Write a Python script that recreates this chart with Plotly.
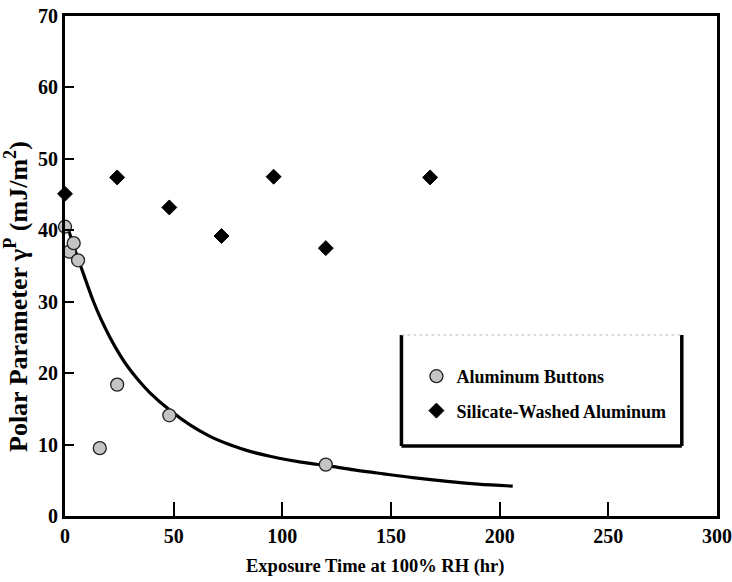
import plotly.graph_objects as go

# Data
buttons_x = [0, 2, 4, 6, 16, 24, 48, 120]
buttons_y = [40.5, 37.0, 38.2, 35.8, 9.5, 18.4, 14.1, 7.2]

silicate_x = [0, 24, 48, 72, 96, 120, 168]
silicate_y = [45.1, 47.4, 43.2, 39.2, 47.5, 37.5, 47.4]

fit_x = [1.5, 4, 7.2, 10, 13, 16.5, 20.7, 24.5, 28.4, 33.5, 39.1, 48.3, 57.5, 66.7, 75.9, 85.1,
         94.3, 103.5, 112.7, 120.4, 133, 146.5, 160, 177, 190, 206]
fit_y = [40.2, 37.8, 35.0, 32.6, 30.1, 27.6, 25.0, 22.95, 21.1, 19.1, 17.25, 14.8, 12.75, 11.15, 9.97, 9.05,
         8.36, 7.81, 7.36, 7.05, 6.45, 5.9, 5.38, 4.82, 4.47, 4.18]

x_ticks = [0, 50, 100, 150, 200, 250, 300]
y_ticks = [0, 10, 20, 30, 40, 50, 60, 70]

FONT = "Liberation Serif"

fig = go.Figure()
fig.add_trace(go.Scatter(x=fit_x, y=fit_y, mode="lines", line=dict(color="black", width=3.2, shape="spline", smoothing=1.0),
                         showlegend=False, hoverinfo="skip", cliponaxis=False))
fig.add_trace(go.Scatter(x=buttons_x, y=buttons_y, mode="markers", name="Aluminum Buttons",
                         legendgroup="a",
                         marker=dict(symbol="circle", size=13, color="#c4c4c4",
                                     line=dict(color="#222", width=1.3)), cliponaxis=False))
fig.add_trace(go.Scatter(x=silicate_x, y=silicate_y, mode="markers", name="Silicate-Washed Aluminum",
                         legendgroup="b",
                         marker=dict(symbol="diamond", size=11.5, color="black",
                                     line=dict(color="black", width=1)), cliponaxis=False))

# legend box (thick left/right/bottom, faint dotted top)
bx0, bx1, by0, by1 = 0.516, 0.946, 0.140, 0.362
fig.add_shape(type="line", xref="paper", yref="paper", x0=bx0, x1=bx0, y0=by0, y1=by1, line=dict(color="black", width=3.5))
fig.add_shape(type="line", xref="paper", yref="paper", x0=bx1, x1=bx1, y0=by0, y1=by1, line=dict(color="black", width=3.5))
fig.add_shape(type="line", xref="paper", yref="paper", x0=bx0, x1=bx1, y0=by0, y1=by0, line=dict(color="black", width=3.5))
fig.add_shape(type="line", xref="paper", yref="paper", x0=bx0, x1=bx1, y0=by1, y1=by1, line=dict(color="#bbbbbb", width=1, dash="dot"))

axis_common = dict(showgrid=False, zeroline=False, showline=True, linecolor="black", linewidth=3,
                   mirror=True, ticks="inside", tickcolor="black", tickwidth=1.5, automargin=False,
                   tickfont=dict(family=FONT, size=20, color="black", weight="bold"))

fig.update_layout(
    width=732, height=582,
    margin=dict(l=65, r=15, t=16, b=66),
    paper_bgcolor="white", plot_bgcolor="white",
    font=dict(family=FONT, color="black"),
    xaxis=dict(range=[0, 300], tickvals=x_ticks, ticklen=14, **axis_common),
    yaxis=dict(range=[0, 70], tickvals=y_ticks, ticklen=9, **axis_common),
    legend=dict(x=0.539, y=0.316, xanchor="left", yanchor="top", bgcolor="rgba(0,0,0,0)",
                borderwidth=0, font=dict(family=FONT, size=18, color="black", weight="bold"),
                itemwidth=30, tracegroupgap=8),
    showlegend=True,
)

# axis titles as annotations for exact placement
fig.add_annotation(text="Exposure Time at 100% RH (hr)", xref="paper", yref="paper",
                   x=(375 - 65) / 652, y=(516 - 566) / 500, xanchor="center", yanchor="middle",
                   showarrow=False, font=dict(family=FONT, size=18.5, color="black", weight="bold"))
fig.add_annotation(text="Polar Parameter γ<sup>P</sup> (mJ/m<sup>2</sup>)", xref="paper", yref="paper",
                   x=(16 - 65) / 652, y=(516 - 297) / 500, xanchor="center", yanchor="middle",
                   textangle=-90, showarrow=False,
                   font=dict(family=FONT, size=26, color="black", weight="bold"))

fig.write_html("out.html")
